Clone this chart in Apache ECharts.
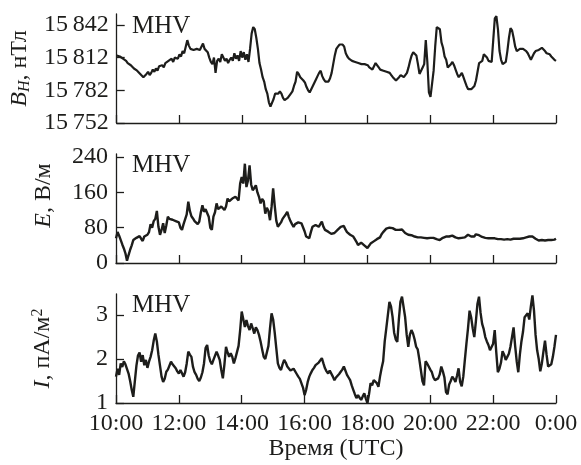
<!DOCTYPE html>
<html>
<head>
<meta charset="utf-8">
<script src="https://cdn.jsdelivr.net/npm/echarts@6/dist/echarts.min.js"></script>
<style>
  html, body { margin: 0; padding: 0; background: #fff; }
  #chart { width: 581px; height: 465px; }
</style>
</head>
<body>
<div id="chart"></div>
<script>
// time axis: hours from 10:00 UTC, one sample every 3 minutes
const startHour = 10
const stepHours = 0.05
const hourTicks = [10, 12, 14, 16, 18, 20, 22, 24]

// B_H, nT
const bhValues = [
  15814, 15814, 15813, 15812, 15811, 15810, 15809, 15807, 15806, 15805, 15804, 15802, 15801, 15800, 15799, 15797, 15796, 15794, 15795, 15797,
  15799, 15796, 15798, 15801, 15799, 15802, 15800, 15804, 15803, 15805, 15803, 15807, 15806, 15809, 15808, 15811, 15808, 15812, 15813, 15811,
  15815, 15813, 15818, 15816, 15822, 15828, 15823, 15820, 15821, 15819, 15820, 15820, 15821, 15819, 15822, 15825, 15820, 15819, 15817, 15812,
  15808, 15806, 15812, 15798, 15809, 15811, 15808, 15815, 15812, 15809, 15811, 15807, 15810, 15812, 15809, 15816, 15811, 15814, 15809, 15818,
  15812, 15817, 15810, 15815, 15808, 15820, 15834, 15840, 15838, 15830, 15820, 15807, 15801, 15794, 15790, 15783, 15779, 15771, 15767, 15768,
  15774, 15779, 15780, 15779, 15781, 15779, 15775, 15773, 15774, 15775, 15776, 15779, 15781, 15786, 15790, 15799, 15797, 15794, 15793, 15791,
  15789, 15785, 15782, 15780, 15783, 15786, 15789, 15792, 15795, 15798, 15800, 15795, 15792, 15790, 15789, 15790, 15793, 15798, 15806, 15814,
  15820, 15822, 15824, 15823, 15824, 15822, 15816, 15813, 15811, 15810, 15809, 15810, 15808, 15808, 15807, 15808, 15806, 15805, 15806, 15806,
  15805, 15803, 15802, 15801, 15804, 15807, 15807, 15803, 15801, 15801, 15800, 15800, 15799, 15799, 15798, 15796, 15794, 15793, 15791, 15791,
  15794, 15796, 15796, 15794, 15794, 15798, 15803, 15809, 15814, 15817, 15817, 15814, 15806, 15797, 15797, 15803, 15806, 15828, 15808, 15780,
  15776, 15788, 15800, 15822, 15840, 15841, 15838, 15826, 15821, 15813, 15810, 15803, 15803, 15806, 15808, 15805, 15801, 15797, 15794, 15796,
  15798, 15794, 15790, 15786, 15783, 15783, 15783, 15783, 15786, 15791, 15799, 15807, 15808, 15809, 15815, 15816, 15812, 15809, 15808, 15808,
  15828, 15848, 15850, 15838, 15818, 15810, 15806, 15806, 15808, 15818, 15830, 15839, 15837, 15830, 15822, 15818, 15819, 15820, 15819, 15820,
  15819, 15818, 15816, 15813, 15810, 15811, 15816, 15818, 15817, 15819, 15819, 15821, 15822, 15818, 15816, 15817, 15815, 15813, 15812, 15810,
  15809
]

// E, V/m
const eValues = [
  56, 70, 62, 58, 42, 33, 22, 5, 18, 30, 40, 52, 48, 57, 54, 61, 55, 50, 60, 57,
  64, 70, 88, 80, 95, 100, 118, 82, 64, 75, 90, 68, 85, 105, 100, 103, 98, 100, 95, 97,
  92, 80, 75, 88, 85, 110, 139, 118, 106, 101, 95, 98, 88, 94, 115, 131, 116, 122, 118, 105,
  80, 75, 105, 115, 135, 122, 118, 128, 124, 120, 128, 146, 140, 138, 146, 144, 150, 146, 142, 180,
  195, 180, 225, 172, 187, 221, 178, 165, 170, 176, 160, 150, 135, 145, 140, 112, 125, 118, 97, 127,
  169, 130, 96, 82, 79, 92, 100, 105, 110, 116, 104, 95, 88, 82, 88, 90, 92, 94, 90, 86,
  72, 60, 58, 56, 70, 82, 85, 86, 84, 82, 88, 94, 82, 75, 74, 71, 68, 66, 64, 68,
  72, 75, 78, 82, 86, 84, 76, 70, 67, 64, 62, 60, 54, 48, 41, 44, 46, 45, 40, 37,
  34, 38, 44, 48, 49, 52, 54, 56, 58, 65, 70, 74, 78, 81, 80, 78, 79, 76, 75, 76,
  75, 77, 76, 72, 68, 66, 64, 65, 63, 62, 60, 61, 58, 57, 58, 56, 57, 55, 56, 55,
  57, 55, 57, 56, 54, 55, 52, 55, 57, 58, 60, 58, 60, 61, 62, 60, 58, 57, 56, 55,
  57, 56, 58, 60, 64, 67, 60, 57, 60, 65, 67, 63, 60, 59, 58, 57, 58, 56, 57, 56,
  55, 56, 55, 54, 53, 54, 52, 53, 52, 54, 52, 53, 54, 55, 54, 55, 56, 55, 57, 56,
  57, 58, 57, 60, 62, 60, 58, 55, 54, 51, 50, 52, 53, 51, 53, 52, 51, 52, 54, 53,
  55
]

// I, pA/m^2
const iValues = [
  1.60, 1.78, 1.64, 1.90, 1.82, 1.95, 1.88, 1.92, 1.67, 1.50, 1.30, 1.14, 1.50, 1.85, 2.08, 2.15, 1.94, 2.09, 1.86, 1.98,
  1.80, 1.94, 2.05, 2.20, 2.42, 2.58, 2.40, 2.10, 1.85, 1.60, 1.48, 1.55, 1.71, 1.76, 1.80, 1.94, 1.88, 1.84, 1.79, 1.72,
  1.67, 1.75, 1.72, 1.60, 1.70, 1.90, 2.17, 2.10, 2.05, 1.82, 1.70, 1.64, 1.55, 1.50, 1.58, 1.70, 1.90, 2.25, 2.32, 2.08,
  1.95, 1.88, 1.98, 2.02, 2.17, 2.08, 1.98, 1.75, 1.56, 1.88, 2.28, 2.15, 2.05, 2.13, 2.05, 1.90, 2.02, 2.06, 2.30, 2.65,
  3.08, 3.04, 2.73, 2.89, 2.75, 2.66, 2.81, 2.70, 2.58, 2.72, 2.66, 2.55, 2.40, 2.22, 2.05, 2.00, 1.98, 2.30, 2.70, 3.04,
  2.90, 2.60, 2.25, 1.90, 1.80, 1.75, 1.88, 1.98, 1.92, 1.83, 1.80, 1.74, 1.71, 1.78, 1.75, 1.66, 1.60, 1.55, 1.52, 1.35,
  1.18, 1.30, 1.48, 1.60, 1.68, 1.75, 1.80, 1.86, 1.84, 1.92, 1.94, 2.02, 1.90, 1.79, 1.72, 1.67, 1.74, 1.71, 1.60, 1.52,
  1.58, 1.60, 1.66, 1.71, 1.76, 1.83, 1.80, 1.64, 1.58, 1.52, 1.40, 1.30, 1.20, 1.11, 1.18, 1.12, 1.07, 1.15, 1.22, 1.10,
  1.00, 1.20, 1.45, 1.40, 1.52, 1.56, 1.45, 1.37, 1.60, 1.79, 1.95, 2.40, 2.70, 3.00, 3.30, 3.20, 2.96, 2.60, 2.45, 2.39,
  2.90, 3.30, 3.42, 3.38, 2.95, 2.55, 2.28, 2.55, 2.66, 2.58, 2.45, 2.28, 2.22, 2.00, 1.75, 1.50, 1.40, 1.95, 1.90, 1.83,
  1.76, 1.70, 1.58, 1.52, 1.48, 1.56, 1.65, 1.83, 1.72, 1.58, 1.25, 1.20, 1.42, 1.50, 1.60, 1.55, 1.48, 1.62, 1.79, 1.48,
  1.38, 1.60, 1.98, 2.35, 2.70, 3.10, 2.95, 2.70, 2.50, 2.85, 3.25, 3.42, 3.05, 2.80, 2.68, 2.50, 2.40, 2.32, 2.20, 2.22,
  2.35, 2.66, 2.15, 1.70, 1.78, 1.92, 2.18, 2.10, 1.98, 2.05, 2.12, 2.28, 2.50, 2.72, 2.30, 1.95, 1.70, 2.10, 2.40, 2.62,
  2.95, 2.98, 3.04, 2.90, 3.20, 3.45, 3.10, 2.55, 2.20, 2.00, 1.72, 1.90, 2.17, 2.42, 2.10, 1.83, 1.80, 1.88, 2.05, 2.28,
  2.55
]

const bhTicks = [15752, 15782, 15812, 15842]
const eTicks = [0, 80, 160, 240]
const iTicks = [1, 2, 3]

const toPairs = (arr) => arr.map((v, i) => [startHour + i * stepHours, v])

const FONT = 'Liberation Serif'
const INK = '#1d1d1b'
const grids = [
  { left: 116, right: 25, top: 14, height: 109 },
  { left: 116, right: 25, top: 154, height: 109 },
  { left: 116, right: 25, top: 294, height: 109 }
]

// tick labels go through rich text so the serif face is applied
const tickRich = { t: { fontFamily: FONT, fontSize: 24, color: INK } }

const makeX = (gridIndex, showLabels) => ({
  type: 'value',
  gridIndex,
  min: 10,
  max: 24,
  interval: 2,
  axisLine: { show: true, lineStyle: { color: INK, width: 1.3 } },
  axisTick: { show: true, inside: true, length: 8, customValues: hourTicks, lineStyle: { color: INK, width: 1.3 } },
  splitLine: { show: false },
  axisLabel: {
    show: showLabels,
    customValues: hourTicks,
    margin: 9,
    fontFamily: FONT,
    fontSize: 24,
    rich: tickRich,
    formatter: (v) => '{t|' + (v % 24) + ':00}'
  },
  name: showLabels ? 'Время (UTC)' : '',
  nameLocation: 'middle',
  nameGap: 32,
  nameTextStyle: { color: INK, fontFamily: FONT, fontSize: 24 }
})

const nameRich = {
  i: { fontFamily: FONT, fontSize: 24, fontStyle: 'italic', color: INK },
  n: { fontFamily: FONT, fontSize: 24, color: INK },
  sub: { fontFamily: FONT, fontSize: 16, fontStyle: 'italic', color: INK, verticalAlign: 'bottom', padding: [10, 0, 0, 0] },
  sup: { fontFamily: FONT, fontSize: 16, color: INK, verticalAlign: 'top', padding: [0, 0, 10, 0] }
}

const makeY = (gridIndex, min, max, ticks, name, namePad, fmt) => ({
  type: 'value',
  gridIndex,
  min,
  max,
  axisLine: { show: true, lineStyle: { color: INK, width: 1.3 } },
  axisTick: { show: true, inside: true, length: 8, customValues: ticks, lineStyle: { color: INK, width: 1.3 } },
  splitLine: { show: false },
  axisLabel: {
    customValues: ticks,
    margin: 8,
    fontFamily: FONT,
    fontSize: 24,
    rich: tickRich,
    formatter: (v) => '{t|' + fmt(v) + '}'
  },
  name,
  nameLocation: 'middle',
  nameRotate: 90,
  nameGap: 60,
  nameTextStyle: { fontFamily: FONT, rich: nameRich, padding: namePad }
})

const chart = echarts.init(document.getElementById('chart'), null, { renderer: 'canvas' })

chart.setOption({
  animation: false,
  backgroundColor: '#fff',
  textStyle: { fontFamily: FONT, color: INK },
  grid: grids,
  xAxis: [makeX(0, false), makeX(1, false), makeX(2, true)],
  yAxis: [
    makeY(0, 15752, 15852, bhTicks, '{i|B}{sub|H}{n|, нТл}', [0, 0, 0, 0],
      (v) => String(v).slice(0, 2) + '\u2009' + String(v).slice(2)),
    makeY(1, 0, 247, eTicks, '{i|E}{n|, В/м}', [0, 0, 0, 26], (v) => String(v)),
    makeY(2, 1, 3.48, iTicks, '{i|I}{n|, пА/м}{sup|2}', [0, 0, 0, 0], (v) => String(v))
  ],
  graphic: [
    { type: 'text', left: 132, top: 14, style: { text: 'MHV', font: '25px "Liberation Serif"', fill: INK } },
    { type: 'text', left: 132, top: 153, style: { text: 'MHV', font: '25px "Liberation Serif"', fill: INK } },
    { type: 'text', left: 132, top: 293, style: { text: 'MHV', font: '25px "Liberation Serif"', fill: INK } }
  ],
  series: [
    { type: 'line', xAxisIndex: 0, yAxisIndex: 0, data: toPairs(bhValues), symbol: 'none', lineStyle: { color: INK, width: 2.2 } },
    { type: 'line', xAxisIndex: 1, yAxisIndex: 1, data: toPairs(eValues), symbol: 'none', lineStyle: { color: INK, width: 2.4 } },
    { type: 'line', xAxisIndex: 2, yAxisIndex: 2, data: toPairs(iValues), symbol: 'none', lineStyle: { color: INK, width: 2.4 } }
  ]
})
</script>
</body>
</html>
